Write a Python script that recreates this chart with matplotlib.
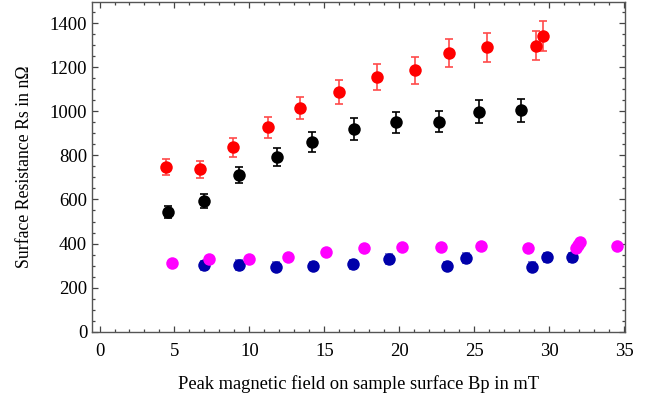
import matplotlib
matplotlib.use("Agg")
import matplotlib.pyplot as plt
from matplotlib.ticker import MultipleLocator

# Red series
red_x = [4.43, 6.71, 8.93, 11.23, 13.38, 16.0, 18.49, 21.05, 23.29, 25.87, 29.09, 29.56]
red_y = [748, 737, 837, 927, 1015, 1087, 1155, 1186, 1266, 1291, 1298, 1343]
red_err = [37, 38, 43, 47, 52, 55, 59, 60, 64, 65, 66, 67]

# Black series
blk_x = [4.56, 6.98, 9.33, 11.87, 14.2, 17.0, 19.78, 22.63, 25.31, 28.09]
blk_y = [544, 595, 713, 793, 860, 920, 950, 953, 999, 1004]
blk_err = [28, 32, 36, 41, 44, 48, 48, 48, 51, 51]

# Blue series
blu_x = [6.98, 9.29, 11.8, 14.22, 16.89, 19.31, 23.16, 24.42, 28.85, 29.87, 31.53]
blu_y = [301, 304, 295, 298, 305, 329, 298, 334, 295, 337, 337]
blu_err = [22, 22, 20, 20, 22, 22, 20, 22, 20, 22, 22]

# Magenta series
mag_x = [4.82, 7.31, 9.96, 12.58, 15.11, 17.64, 20.16, 22.8, 25.43, 28.56, 31.78, 31.93, 32.07, 34.53]
mag_y = [311, 329, 332, 337, 362, 378, 384, 384, 388, 382, 378, 393, 408, 391]

plt.rcParams['font.family'] = ['Liberation Serif', 'DejaVu Serif']
fig = plt.figure(figsize=(6.55, 4.03), dpi=100)
ax = fig.add_axes([0.1405, 0.177, 0.8135, 0.819])

ms = 9.0
series = [
    (red_x, red_y, red_err, '#ff0000', '#ff4a4a'),
    (blk_x, blk_y, blk_err, 'black', 'black'),
    (blu_x, blu_y, blu_err, '#0000aa', '#6060c8'),
]
for x, y, e, c, ec in series:
    ax.errorbar(x, y, yerr=e, fmt='none', ecolor=ec, elinewidth=1.2,
                capsize=3, capthick=1.2)
    ax.plot(x, y, 'o', color=c, ms=ms, mew=0)
ax.plot(mag_x, mag_y, 'o', color='#ff00ff', ms=ms, mew=0)

ax.set_xlim(-0.5, 35.05)
ax.set_ylim(0, 1498)
ax.xaxis.set_major_locator(MultipleLocator(5))
ax.xaxis.set_minor_locator(MultipleLocator(1))
ax.yaxis.set_major_locator(MultipleLocator(200))
ax.yaxis.set_minor_locator(MultipleLocator(50))
ax.tick_params(which='both', direction='in', top=True, right=True, color='#444444',
               labelsize=13.5, width=0.9)
ax.tick_params(which='major', length=4)
ax.tick_params(which='minor', length=2.3)
ax.tick_params(axis='x', pad=8)
for s in ax.spines.values():
    s.set_color('#555555')
    s.set_linewidth(1.0)

ax.set_xlabel('Peak magnetic field on sample surface Bp in mT', fontsize=13.3, labelpad=11)
ax.set_ylabel('Surface Resistance Rs in n\u03a9', fontsize=12.8, labelpad=12)

fig.savefig('out.png', dpi=100)
